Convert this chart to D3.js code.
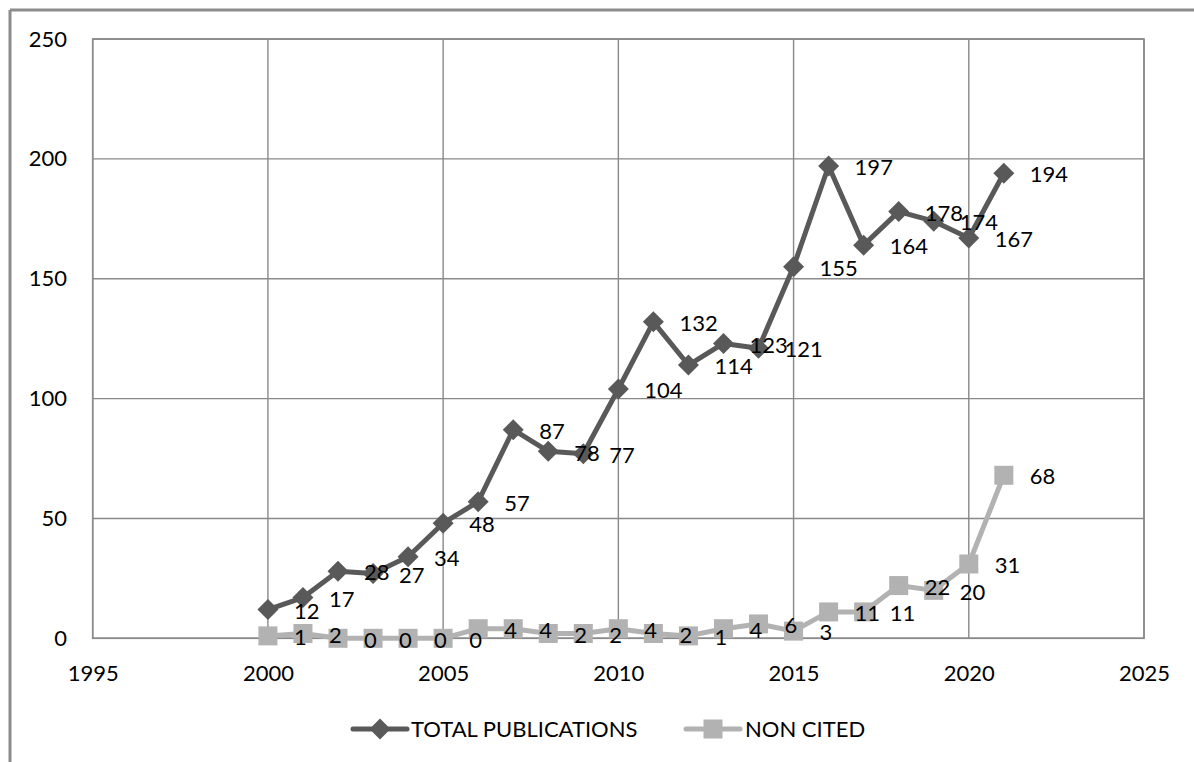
<!DOCTYPE html>
<html>
<head>
<meta charset="utf-8">
<script src="https://cdn.jsdelivr.net/npm/d3@7/dist/d3.min.js"></script>
<style>
  html, body { margin: 0; padding: 0; background: #ffffff; }
  svg { display: block; font-family: Lato, "Open Sans", sans-serif; }
</style>
</head>
<body>
<svg id="chart" width="1194" height="762"></svg>
<script>
// Publications per year
const years = [2000, 2001, 2002, 2003, 2004, 2005, 2006, 2007, 2008, 2009, 2010,
               2011, 2012, 2013, 2014, 2015, 2016, 2017, 2018, 2019, 2020, 2021];
const totalPublications = [12, 17, 28, 27, 34, 48, 57, 87, 78, 77, 104,
                           132, 114, 123, 121, 155, 197, 164, 178, 174, 167, 194];
const nonCited = [1, 2, 0, 0, 0, 0, 4, 4, 2, 2, 4,
                  2, 1, 4, 6, 3, 11, 11, 22, 20, 31, 68];
const seriesNames = ["TOTAL PUBLICATIONS", "NON CITED"];
const xTicks = [1995, 2000, 2005, 2010, 2015, 2020, 2025];
const yTicks = [0, 50, 100, 150, 200, 250];

const svg = d3.select("#chart");
const plot = { left: 92.7, right: 1144, top: 39, bottom: 638.3 };
const gridColor = "#898989";
const fontSize = 22;

const x = d3.scaleLinear().domain([1995, 2025]).range([plot.left, plot.right]);
const y = d3.scaleLinear().domain([0, 250]).range([plot.bottom, plot.top]);

// Outer chart frame (top and left edges)
svg.append("line").attr("x1", 10).attr("x2", 1194).attr("y1", 10).attr("y2", 10)
  .attr("stroke", "#8c8c8c").attr("stroke-width", 3);
svg.append("line").attr("x1", 10).attr("x2", 10).attr("y1", 10).attr("y2", 762)
  .attr("stroke", "#8c8c8c").attr("stroke-width", 3);

// Gridlines
const grid = svg.append("g");
grid.selectAll("line.h").data(yTicks).join("line")
  .attr("x1", plot.left).attr("x2", plot.right)
  .attr("y1", d => y(d)).attr("y2", d => y(d))
  .attr("stroke", gridColor).attr("stroke-width", 1.4);
grid.selectAll("line.v").data(xTicks).join("line")
  .attr("y1", plot.top).attr("y2", plot.bottom)
  .attr("x1", d => x(d)).attr("x2", d => x(d))
  .attr("stroke", gridColor).attr("stroke-width", 1.4);
grid.append("rect")
  .attr("x", plot.left).attr("y", plot.top)
  .attr("width", plot.right - plot.left).attr("height", plot.bottom - plot.top)
  .attr("fill", "none").attr("stroke", gridColor).attr("stroke-width", 1.6);

// Axes
const yAxis = svg.append("g")
  .attr("transform", `translate(${plot.left},0)`)
  .call(d3.axisLeft(y).tickValues(yTicks).tickSize(0).tickPadding(25.7).tickFormat(d3.format("d")));
const xAxis = svg.append("g")
  .attr("transform", `translate(0,${plot.bottom})`)
  .call(d3.axisBottom(x).tickValues(xTicks).tickSize(0).tickFormat(d3.format("d")));
[yAxis, xAxis].forEach(a => {
  a.select(".domain").remove();
  a.selectAll("text").attr("font-family", "Lato, 'Open Sans', sans-serif")
    .attr("font-size", fontSize).attr("fill", "#000");
});
xAxis.selectAll("text").attr("y", 35.2).attr("dy", "0.35em");

const series = [
  { name: seriesNames[0], values: totalPublications, color: "#595959", marker: "diamond" },
  { name: seriesNames[1], values: nonCited, color: "#b2b2b2", marker: "square" }
];

const line = d3.line().x(d => x(d.year)).y(d => y(d.value));

function drawMarker(g, type, color) {
  if (type === "diamond") {
    g.append("path").attr("d", "M0,-10.5L10.5,0L0,10.5L-10.5,0Z").attr("fill", color);
  } else {
    g.append("rect").attr("x", -9.5).attr("y", -9.5).attr("width", 19).attr("height", 19)
      .attr("fill", color);
  }
}

series.forEach(s => {
  const pts = years.map((yr, i) => ({ year: yr, value: s.values[i] }));
  const g = svg.append("g");
  g.append("path").datum(pts).attr("d", line)
    .attr("fill", "none").attr("stroke", s.color).attr("stroke-width", 5)
    .attr("stroke-linejoin", "round");
  g.selectAll("g.m").data(pts).join("g")
    .attr("transform", d => `translate(${x(d.year)},${y(d.value)})`)
    .each(function () { drawMarker(d3.select(this), s.marker, s.color); });
  s.pts = pts;
});

// Value labels, to the right of each point
series.forEach(s => {
  svg.append("g").selectAll("text").data(s.pts).join("text")
    .attr("x", d => x(d.year) + 26)
    .attr("y", d => y(d.value) + 1.5)
    .attr("dy", "0.35em")
    .attr("font-size", fontSize).attr("fill", "#000")
    .text(d => d.value);
});

// Legend
const legendY = 729;
const legendItems = [
  { s: series[0], cx: 380, tx: 411 },
  { s: series[1], cx: 713, tx: 745 }
];
legendItems.forEach(it => {
  const g = svg.append("g");
  g.append("line").attr("x1", it.cx - 27).attr("x2", it.cx + 27)
    .attr("y1", legendY).attr("y2", legendY)
    .attr("stroke", it.s.color).attr("stroke-width", 5).attr("stroke-linecap", "round");
  const m = g.append("g").attr("transform", `translate(${it.cx},${legendY})`);
  drawMarker(m, it.s.marker, it.s.color);
  g.append("text").attr("x", it.tx).attr("y", legendY).attr("dy", "0.35em")
    .attr("font-size", fontSize).attr("fill", "#000").text(it.s.name);
});
</script>
</body>
</html>
